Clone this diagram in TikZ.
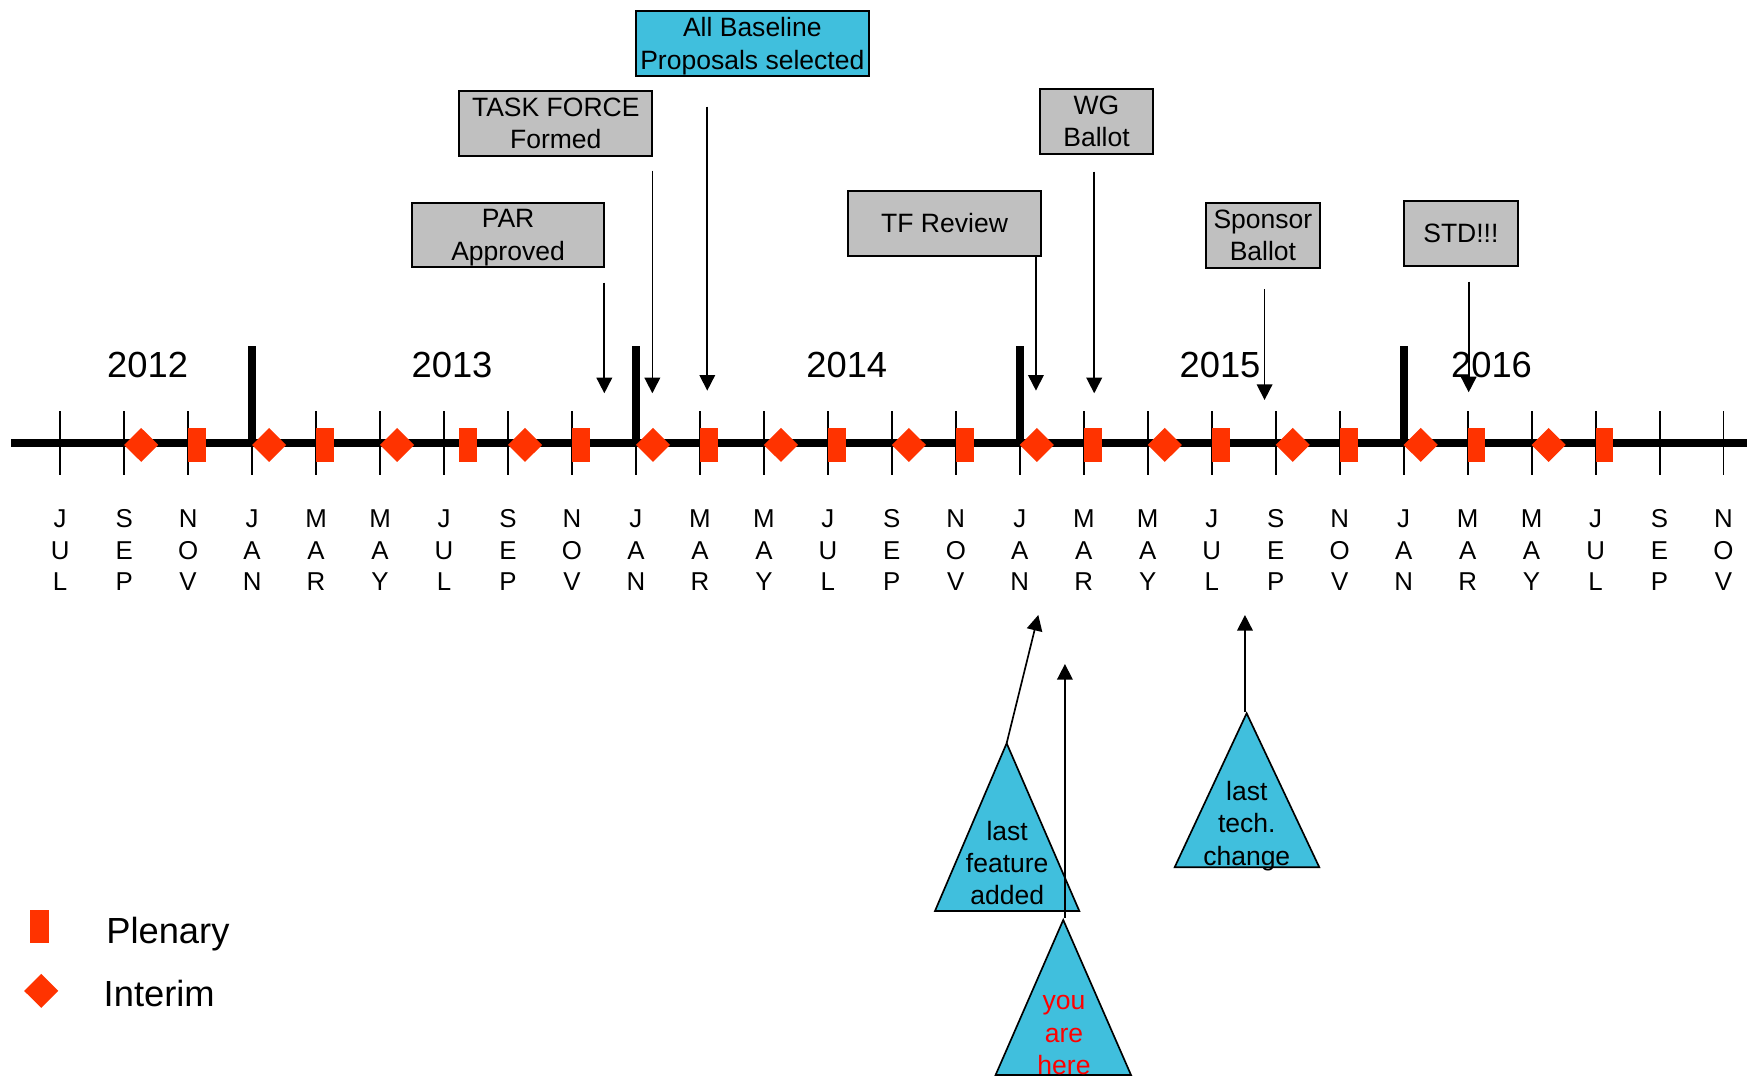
\documentclass[tikz,border=0pt]{standalone}
\usepackage{fontspec}
\setmainfont{Liberation Sans}
\usetikzlibrary{arrows.meta}
\definecolor{mkred}{HTML}{FF3300}
\definecolor{boxgray}{HTML}{C0C0C0}
\definecolor{tcyan}{HTML}{40BFDD}
\definecolor{yahred}{HTML}{FF0000}
\begin{document}
\begin{tikzpicture}[x=0.5pt,y=-0.5pt,
  small/.style={font=\fontsize{11.9pt}{14.5pt}\selectfont},
  monthfont/.style={font=\fontsize{11.6pt}{14.2pt}\selectfont},
  big/.style={font=\fontsize{16.3pt}{20pt}\selectfont},
  evbox/.style={draw=black, line width=0.9pt, fill=boxgray, inner sep=0pt, align=center, small, minimum height=29.1pt},
  cyanbox/.style={evbox, fill=tcyan},
  arr/.style={line width=0.75pt, -{Triangle[width=7pt,length=7pt]}},
  axisline/.style={line width=3.9pt},
  tickline/.style={line width=0.85pt},
  yearline/.style={line width=3.7pt},
  mk/.style={fill=mkred},
  tri/.style={draw=black, line width=0.75pt, fill=tcyan, line join=miter},
  lbl/.style={small, align=center, inner sep=0pt, anchor=north},
  mlbl/.style={monthfont, align=center, inner sep=0pt, anchor=north},
  yearlbl/.style={big, inner sep=0pt, anchor=base},
  leglbl/.style={big, inner sep=0pt, anchor=base west},
]
\useasboundingbox (0,0) rectangle (1568,967);

% main axis
\draw[axisline] (10.3,397.6) -- (1568,397.6);
% month ticks
\foreach \k in {0,...,26} {
  \draw[tickline] ({54+57.42*\k},368.9) -- ({54+57.42*\k},426);
}
% year separators
\foreach \k in {3,9,15,21} {
  \draw[yearline] ({54+57.42*\k},311) -- ({54+57.42*\k},397.6);
}
% interim meetings (diamonds)
\foreach \k in {1,3,...,23} {
  \pgfmathsetmacro\xx{54+57.42*\k+15.3}
  \fill[mk] (\xx-15.3,399.35) -- (\xx,384.1) -- (\xx+15.3,399.35) -- (\xx,414.6) -- cycle;
}
% plenary meetings (rectangles)
\foreach \k/\o in {2/0,4/0,6/13.7,8/0,10/0,12/0,14/0,16/0,18/0,20/0,22/0,24/0} {
  \fill[mk] ({54+57.42*\k+\o},384.1) rectangle ++(16,30.5);
}
% month labels
\foreach \a/\b/\c [count=\i from 0] in {J/U/L,S/E/P,N/O/V,
  J/A/N,M/A/R,M/A/Y,J/U/L,S/E/P,N/O/V,
  J/A/N,M/A/R,M/A/Y,J/U/L,S/E/P,N/O/V,
  J/A/N,M/A/R,M/A/Y,J/U/L,S/E/P,N/O/V,
  J/A/N,M/A/R,M/A/Y,J/U/L,S/E/P,N/O/V} {
  \node[mlbl] (m\i) at ({54+57.42*\i},457) {\a\\\b\\\c};
}
% years
\node[yearlbl] (y2012) at (132.5,339) {2012};
\node[yearlbl] (y2013) at (405.7,339) {2013};
\node[yearlbl] (y2014) at (760,339) {2014};
\node[yearlbl] (y2015) at (1095,339) {2015};
\node[yearlbl] (y2016) at (1338.7,339) {2016};

% event boxes
\node[evbox, minimum width=86.5pt] (par) at (456,210.9) {PAR\\\smash{Approved}};
\node[evbox, minimum width=86.6pt] (tfo) at (498.85,110.55) {TASK FORCE\\Formed};
\node[cyanbox, minimum width=104.8pt] (abp) at (675.2,39.05) {All Baseline\\\smash{Proposals selected}};
\node[evbox, minimum width=86.4pt] (tfr) at (847.8,200.45) {TF Review};
\node[evbox, minimum width=50.7pt] (wg) at (984.15,109.05) {WG\\Ballot};
\node[evbox, minimum width=50.8pt] (sp) at (1133.5,211.05) {Sponsor\\Ballot};
\node[evbox, minimum width=50.8pt] (std) at (1311.2,209.25) {STD!!!};

% arrows from boxes to the time line
\coordinate (parS) at (542.4,253.7);  \coordinate (parE) at (542.4,353);
\coordinate (tfoS) at (585.5,153.2);  \coordinate (tfoE) at (585.5,353);
\coordinate (abpS) at (634.8,95.7);   \coordinate (abpE) at (634.8,350.6);
\coordinate (tfrS) at (929.8,229.5);  \coordinate (tfrE) at (929.8,350.6);
\coordinate (wgS) at (982.1,154);     \coordinate (wgE) at (982.1,353);
\coordinate (spS) at (1135,259.7);    \coordinate (spE) at (1135,359);
\coordinate (stdS) at (1318.2,252.8); \coordinate (stdE) at (1318.2,352.1);
\draw[arr] (parS) -- (parE);
\draw[arr] (tfoS) -- (tfoE);
\draw[arr] (abpS) -- (abpE);
\draw[arr] (tfrS) -- (tfrE);
\draw[arr] (wgS) -- (wgE);
\draw[arr] (spS) -- (spE);
\draw[arr] (stdS) -- (stdE);

% triangles
\coordinate (lfaA) at (903.5,667.1);
\coordinate (yahA) at (954.3,825.7);
\coordinate (ltcA) at (1118.9,640.2);
\draw[tri] (lfaA) -- (968.7,817.6) -- (839.2,817.6) -- cycle;
\draw[tri] (ltcA) -- (1184.1,778.4) -- (1054.3,778.4) -- cycle;
\draw[tri] (yahA) -- (1015.1,964.8) -- (893.6,964.8) -- cycle;
\node[lbl] (lfa) at (904,736.5) {last\\feature\\added};
\node[lbl] (ltc) at (1119,701) {last\\tech.\\change};
\node[lbl, text=yahred] (yah) at (955,893.1) {you\\are\\here};

% arrows from triangles
\coordinate (lfaE) at (931.9,552);
\coordinate (yahS) at (955.8,824);
\coordinate (yahE) at (955.8,596);
\coordinate (ltcS) at (1117.4,638.7);
\coordinate (ltcE) at (1117.4,552);
\draw[arr] (lfaA) -- (lfaE);
\draw[arr] (yahS) -- (yahE);
\draw[arr] (ltcS) -- (ltcE);

% legend
\fill[mk] (26.9,816.7) rectangle (43.7,846.6);
\fill[mk] (21.7,889.4) -- (37,874.15) -- (52.3,889.4) -- (37,904.65) -- cycle;
\node[leglbl] (plen) at (95,846.6) {Plenary};
\node[leglbl] (inter) at (92.7,903.5) {Interim};
\end{tikzpicture}
\end{document}
